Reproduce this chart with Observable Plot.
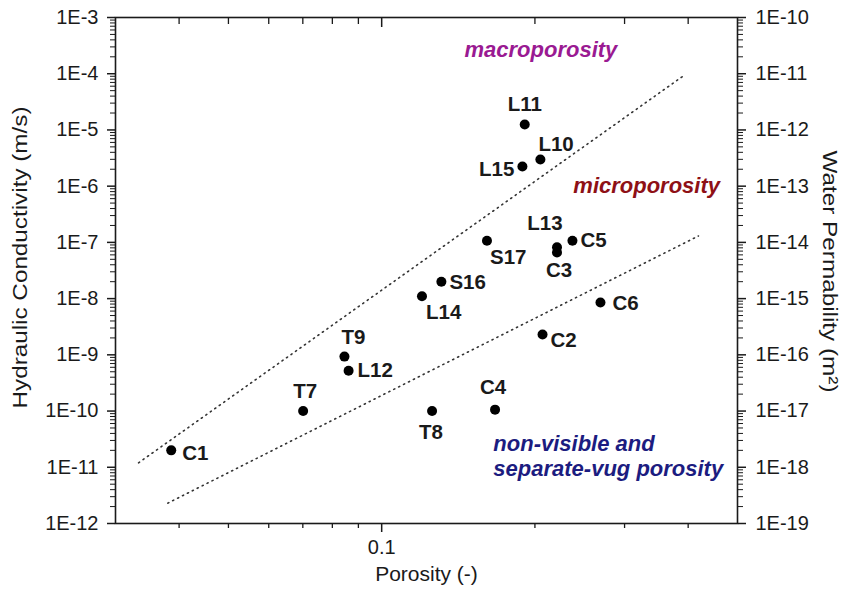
<!DOCTYPE html>
<html><head><meta charset="utf-8">
<script src="https://cdn.jsdelivr.net/npm/d3@7"></script>
<script src="https://cdn.jsdelivr.net/npm/@observablehq/plot@0.6"></script>
<style>body{margin:0;background:#fff} #chart svg{display:block}</style>
</head><body><div id="chart"></div>
<script>
// ---- data ----
const samples      = ["C1","T7","T9","L12","L14","S16","S17","T8","C4","C2","C6","L13","C3","C5","L11","L15","L10"];
const porosity     = [0.0386,0.0701,0.0845,0.0861,0.120,0.131,0.161,0.1256,0.167,0.207,0.269,0.221,0.221,0.237,0.191,0.189,0.205];
const conductivity = [2.0e-11,1.0e-10,9.3e-10,5.2e-10,1.1e-8,2.0e-8,1.07e-7,1.0e-10,1.06e-10,2.3e-9,8.5e-9,8.2e-8,6.6e-8,1.07e-7,1.25e-5,2.24e-6,2.97e-6];

const upperLinePorosity     = [0.0333, 0.395];
const upperLineConductivity = [1.2e-11, 9.7e-5];
const lowerLinePorosity     = [0.038, 0.419];
const lowerLineConductivity = [2.3e-12, 1.3e-7];

const yTickValues      = [1e-12,1e-11,1e-10,1e-9,1e-8,1e-7,1e-6,1e-5,1e-4,1e-3];
const yTickLabelsLeft  = ["1E-12","1E-11","1E-10","1E-9","1E-8","1E-7","1E-6","1E-5","1E-4","1E-3"];
const yTickLabelsRight = ["1E-19","1E-18","1E-17","1E-16","1E-15","1E-14","1E-13","1E-12","1E-11","1E-10"];
const xTickValues = [0.1];
const xTickLabels = ["0.1"];
const xMinorTicks = [0.04,0.05,0.06,0.07,0.08,0.09,0.2,0.3,0.4];

const regionNames       = ["macroporosity","microporosity","non-visible and\nseparate-vug porosity"];
const regionPorosity    = [0.2055, 0.462, 0.1657];
const regionConductivity= [2.8e-4, 1.07e-6, 1.64e-11];

// ---- tables built from the arrays ----
const points = samples.map((s,i)=>({sample:s, porosity:porosity[i], K:conductivity[i]}));
const trendLines = [
  {p1:upperLinePorosity[0], k1:upperLineConductivity[0], p2:upperLinePorosity[1], k2:upperLineConductivity[1]},
  {p1:lowerLinePorosity[0], k1:lowerLineConductivity[0], p2:lowerLinePorosity[1], k2:lowerLineConductivity[1]}
];
const yMinorTicks = [];
for (const d of yTickValues.slice(0,-1)) for (let m=2;m<=9;m++) yMinorTicks.push(d*m);
const regions = regionNames.map((n,i)=>({name:n, porosity:regionPorosity[i], K:regionConductivity[i]}));

// label placement (style)
const place = {
  C1:{dx:11,dy:3,a:"start"}, T7:{dx:2,dy:-20,a:"middle"}, T9:{dx:9,dy:-19,a:"middle"},
  L12:{dx:9,dy:0,a:"start"}, L14:{dx:4,dy:16,a:"start"}, S16:{dx:8,dy:1,a:"start"},
  S17:{dx:3,dy:17,a:"start"}, T8:{dx:-1,dy:21,a:"middle"}, C4:{dx:-2,dy:-22,a:"middle"},
  C2:{dx:8,dy:6,a:"start"}, C6:{dx:12,dy:1,a:"start"}, L13:{dx:-12,dy:-24,a:"middle"},
  C3:{dx:2,dy:18,a:"middle"}, C5:{dx:8,dy:0,a:"start"}, L11:{dx:0,dy:-20,a:"middle"},
  L15:{dx:-8,dy:3,a:"end"}, L10:{dx:-2,dy:-15,a:"start"}
};
const regionColors = ["#9a1a92","#8e1016","#1c1c80"];
const regionAnchors = ["middle","end","start"];

const ink = "#1a1a1a";
const labelMarks = points.map(p => Plot.text([p], {
  x:"porosity", y:"K", text:"sample", dx:place[p.sample].dx, dy:place[p.sample].dy,
  textAnchor:place[p.sample].a, fontWeight:"bold", fontSize:20.5, fill:ink
}));
const regionMarks = regions.map((r,i) => Plot.text([r], {
  x:"porosity", y:"K", text:"name", fill:regionColors[i], textAnchor:regionAnchors[i],
  fontWeight:"bold", fontStyle:"italic", fontSize:22, lineHeight:1.14
}));

const leftTitleLen = 302, rightTitleLen = 242;
const chart = Plot.plot({
  width:842, height:594,
  marginLeft:115, marginRight:105, marginTop:17, marginBottom:71,
  style:{fontFamily:"'Liberation Sans', Arial, Helvetica, sans-serif", fontSize:"20px", color:ink, background:"#fff"},
  x:{type:"log", domain:[0.03,0.5]},
  y:{type:"log", domain:[1e-12,1e-3]},
  marks:[
    // bottom axis
    Plot.axisX({anchor:"bottom", ticks:xTickValues, tickFormat:d=>xTickLabels[xTickValues.indexOf(d)], tickSize:9, tickPadding:7, label:null, strokeWidth:1.5}),
    Plot.axisX({anchor:"bottom", ticks:xMinorTicks, tickFormat:()=>"", tickSize:5, label:null, strokeWidth:1.3}),
    // top axis (inward ticks)
    Plot.axisX({anchor:"top", ticks:xTickValues, tickFormat:()=>"", tickSize:-9, label:null, strokeWidth:1.5}),
    Plot.axisX({anchor:"top", ticks:xMinorTicks, tickFormat:()=>"", tickSize:-6, label:null, strokeWidth:1.3}),
    // left axis
    Plot.axisY({anchor:"left", ticks:yTickValues, tickFormat:d=>yTickLabelsLeft[yTickValues.indexOf(d)], tickSize:8, tickPadding:9, label:null, strokeWidth:1.5}),
    Plot.axisY({anchor:"left", ticks:yMinorTicks, tickFormat:()=>"", tickSize:5, label:null, strokeWidth:1}),
    // right axis
    Plot.axisY({anchor:"right", ticks:yTickValues, tickFormat:d=>yTickLabelsRight[yTickValues.indexOf(d)], tickSize:8, tickPadding:10, label:null, strokeWidth:1.5}),
    Plot.axisY({anchor:"right", ticks:yMinorTicks, tickFormat:()=>"", tickSize:5, label:null, strokeWidth:1}),
    Plot.frame({stroke:ink, strokeWidth:1.6}),
    // axis titles
    Plot.text(["Porosity (-)"], {frameAnchor:"bottom", dy:57, fontSize:21, fill:ink}),
    Plot.text(["Hydraulic Conductivity (m/s)"], {frameAnchor:"left", dx:-95, dy:-13 + leftTitleLen/2, rotate:-90, textAnchor:"start", fontSize:20, fill:ink, className:"title-left"}),
    Plot.text(["Water Permability (m²)"], {frameAnchor:"right", dx:92, dy:1 - rightTitleLen/2, rotate:90, textAnchor:"start", fontSize:20, fill:ink, className:"title-right"}),
    // dotted trend lines
    Plot.link(trendLines, {x1:"p1", y1:"k1", x2:"p2", y2:"k2", curve:"linear", stroke:"#333", strokeWidth:1.6, strokeDasharray:"1.2,4.3", strokeLinecap:"round"}),
    // points
    Plot.dot(points, {x:"porosity", y:"K", r:5, fill:"#000", stroke:null}),
    ...labelMarks,
    ...regionMarks
  ]
});
// stretch the axis titles along their length to match the reference's proportions
d3.select(chart).selectAll(".title-left text").attr("textLength", leftTitleLen).attr("lengthAdjust", "spacingAndGlyphs");
d3.select(chart).selectAll(".title-right text").attr("textLength", rightTitleLen).attr("lengthAdjust", "spacingAndGlyphs");
document.getElementById("chart").appendChild(chart);
</script>
</body></html>
